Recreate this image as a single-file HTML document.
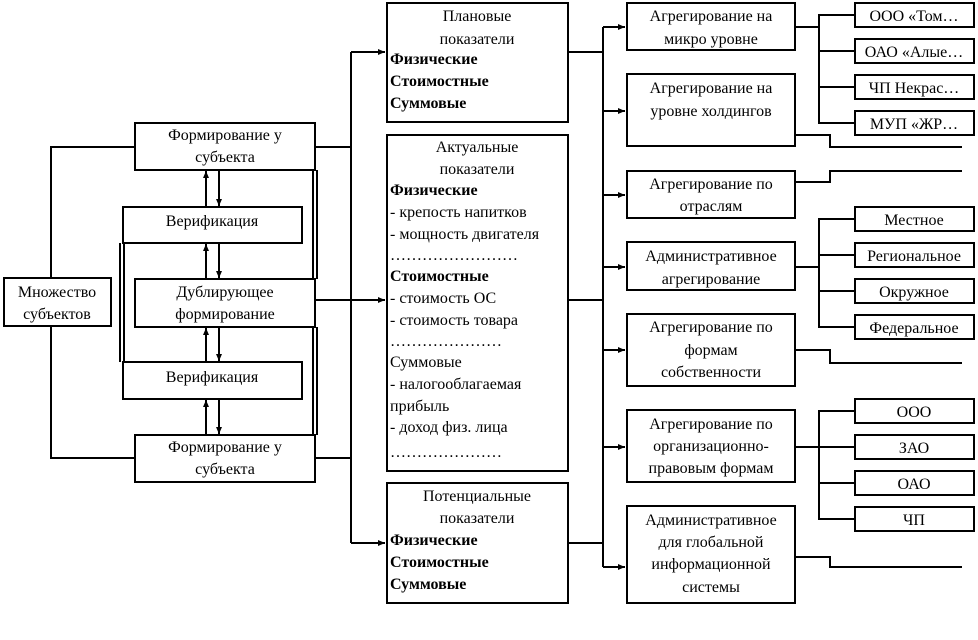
<!DOCTYPE html>
<html><head><meta charset="utf-8"><style>
html,body{margin:0;padding:0;background:#fff;}
svg{display:block;}
text{font-family:"Liberation Serif","DejaVu Serif",serif;font-size:16px;fill:#000;}
.b{font-weight:bold;}
</style></head><body>
<svg width="978" height="640" viewBox="0 0 978 640" xmlns="http://www.w3.org/2000/svg">
<defs>
<marker id="a" markerWidth="8" markerHeight="8" refX="7" refY="4" orient="auto" markerUnits="userSpaceOnUse">
<path d="M0,1 L7,4 L0,7 z" fill="#000"/></marker>
</defs>
<g fill="none" stroke="#000" stroke-width="2">
<!-- left boxes -->
<rect x="4" y="278" width="107" height="48"/>
<rect x="135" y="123" width="180" height="47"/>
<rect x="123" y="207" width="179" height="36"/>
<rect x="135" y="279" width="180" height="48"/>
<rect x="123" y="362" width="179" height="37"/>
<rect x="135" y="435" width="180" height="47"/>
<!-- left connectors -->
<polyline points="51,278 51,147 135,147"/>
<polyline points="51,326 51,458 135,458"/>
<!-- double lines -->
<line x1="313" y1="170" x2="313" y2="279"/><line x1="317" y1="170" x2="317" y2="279"/>
<line x1="313" y1="327" x2="313" y2="435"/><line x1="317" y1="327" x2="317" y2="435"/>
<line x1="120" y1="243" x2="120" y2="362"/><line x1="124" y1="243" x2="124" y2="362"/>
<!-- up/down arrows -->
<line x1="206" y1="207" x2="206" y2="171" marker-end="url(#a)"/>
<line x1="219" y1="170" x2="219" y2="206" marker-end="url(#a)"/>
<line x1="206" y1="279" x2="206" y2="244" marker-end="url(#a)"/>
<line x1="219" y1="243" x2="219" y2="278" marker-end="url(#a)"/>
<line x1="206" y1="362" x2="206" y2="328" marker-end="url(#a)"/>
<line x1="219" y1="327" x2="219" y2="361" marker-end="url(#a)"/>
<line x1="206" y1="435" x2="206" y2="400" marker-end="url(#a)"/>
<line x1="219" y1="399" x2="219" y2="434" marker-end="url(#a)"/>
<!-- bus 1 -->
<line x1="315" y1="147" x2="351" y2="147"/>
<line x1="315" y1="458" x2="351" y2="458"/>
<line x1="351" y1="52" x2="351" y2="543"/>
<line x1="351" y1="52" x2="385" y2="52" marker-end="url(#a)"/>
<line x1="315" y1="300" x2="385" y2="300" marker-end="url(#a)"/>
<line x1="351" y1="543" x2="385" y2="543" marker-end="url(#a)"/>
<!-- middle boxes -->
<rect x="387" y="3" width="181" height="119"/>
<rect x="387" y="135" width="181" height="336"/>
<rect x="387" y="483" width="181" height="120"/>
<!-- bus 2 -->
<line x1="568" y1="52" x2="603" y2="52"/>
<line x1="568" y1="300" x2="603" y2="300"/>
<line x1="568" y1="543" x2="603" y2="543"/>
<line x1="603" y1="27" x2="603" y2="567"/>
<line x1="603" y1="27" x2="625" y2="27" marker-end="url(#a)"/>
<line x1="603" y1="111" x2="625" y2="111" marker-end="url(#a)"/>
<line x1="603" y1="195" x2="625" y2="195" marker-end="url(#a)"/>
<line x1="603" y1="267" x2="625" y2="267" marker-end="url(#a)"/>
<line x1="603" y1="350" x2="625" y2="350" marker-end="url(#a)"/>
<line x1="603" y1="447" x2="625" y2="447" marker-end="url(#a)"/>
<line x1="603" y1="567" x2="625" y2="567" marker-end="url(#a)"/>
<!-- right boxes -->
<rect x="627" y="3" width="168" height="47"/>
<rect x="627" y="74" width="168" height="72"/>
<rect x="627" y="171" width="168" height="47"/>
<rect x="627" y="242" width="168" height="48"/>
<rect x="627" y="314" width="168" height="72"/>
<rect x="627" y="410" width="168" height="72"/>
<rect x="627" y="506" width="168" height="97"/>
<!-- trees -->
<line x1="795" y1="27" x2="819" y2="27"/>
<polyline points="855,15 819,15 819,123 855,123"/>
<line x1="819" y1="51" x2="855" y2="51"/><line x1="819" y1="87" x2="855" y2="87"/>
<line x1="795" y1="267" x2="819" y2="267"/>
<polyline points="855,219 819,219 819,327 855,327"/>
<line x1="819" y1="255" x2="855" y2="255"/><line x1="819" y1="291" x2="855" y2="291"/>
<line x1="795" y1="447" x2="819" y2="447"/>
<polyline points="855,411 819,411 819,519 855,519"/>
<line x1="819" y1="447" x2="855" y2="447"/><line x1="819" y1="483" x2="855" y2="483"/>
<!-- stubs -->
<polyline points="795,135 830,135 830,147 962,147"/>
<polyline points="795,182 830,182 830,171 962,171"/>
<polyline points="795,350 830,350 830,363 962,363"/>
<polyline points="795,557 830,557 830,567 962,567"/>
<!-- leaves -->
<rect x="855" y="3" width="119" height="24"/>
<rect x="855" y="39" width="119" height="24"/>
<rect x="855" y="75" width="119" height="24"/>
<rect x="855" y="111" width="119" height="24"/>
<rect x="855" y="207" width="119" height="24"/>
<rect x="855" y="243" width="119" height="24"/>
<rect x="855" y="279" width="119" height="24"/>
<rect x="855" y="315" width="119" height="24"/>
<rect x="855" y="399" width="119" height="24"/>
<rect x="855" y="435" width="119" height="24"/>
<rect x="855" y="471" width="119" height="24"/>
<rect x="855" y="507" width="119" height="24"/>
</g>
<g text-anchor="middle">
<text x="57" y="297">Множество</text><text x="57" y="319">субъектов</text>
<text x="225" y="140">Формирование у</text><text x="225" y="162">субъекта</text>
<text x="212" y="226">Верификация</text>
<text x="225" y="297">Дублирующее</text><text x="225" y="319">формирование</text>
<text x="212" y="382">Верификация</text>
<text x="225" y="452">Формирование у</text><text x="225" y="474">субъекта</text>
<text x="477" y="21">Плановые</text><text x="477" y="44">показатели</text>
<text x="477" y="152">Актуальные</text><text x="477" y="174">показатели</text>
<text x="477" y="501">Потенциальные</text><text x="477" y="523">показатели</text>
<text x="711" y="21">Агрегирование на</text><text x="711" y="44">микро уровне</text>
<text x="711" y="93">Агрегирование на</text><text x="711" y="116">уровне холдингов</text>
<text x="711" y="189">Агрегирование по</text><text x="711" y="211">отраслям</text>
<text x="711" y="261">Административное</text><text x="711" y="284">агрегирование</text>
<text x="711" y="332">Агрегирование по</text><text x="711" y="355">формам</text><text x="711" y="377">собственности</text>
<text x="711" y="429">Агрегирование по</text><text x="711" y="451">организационно-</text><text x="711" y="473">правовым формам</text>
<text x="711" y="525">Административное</text><text x="711" y="547">для глобальной</text><text x="711" y="569">информационной</text><text x="711" y="592">системы</text>
<text x="914" y="21">ООО «Том…</text>
<text x="914" y="57">ОАО «Алые…</text>
<text x="914" y="93">ЧП Некрас…</text>
<text x="914" y="129">МУП «ЖР…</text>
<text x="914" y="225">Местное</text>
<text x="914" y="261">Региональное</text>
<text x="914" y="297">Окружное</text>
<text x="914" y="333">Федеральное</text>
<text x="914" y="417">ООО</text>
<text x="914" y="453">ЗАО</text>
<text x="914" y="489">ОАО</text>
<text x="914" y="525">ЧП</text>
</g>
<g>
<text x="390" y="64" class="b">Физические</text>
<text x="390" y="86" class="b">Стоимостные</text>
<text x="390" y="108" class="b">Суммовые</text>
<text x="390" y="195" class="b">Физические</text>
<text x="390" y="217">- крепость напитков</text>
<text x="390" y="239">- мощность двигателя</text>
<text x="390" y="260">……………………</text>
<text x="390" y="281" class="b">Стоимостные</text>
<text x="390" y="303">- стоимость ОС</text>
<text x="390" y="325">- стоимость товара</text>
<text x="390" y="346">…………………</text>
<text x="390" y="367">Суммовые</text>
<text x="390" y="389">- налогооблагаемая</text>
<text x="390" y="411">прибыль</text>
<text x="390" y="432">- доход физ. лица</text>
<text x="390" y="457">…………………</text>
<text x="390" y="545" class="b">Физические</text>
<text x="390" y="567" class="b">Стоимостные</text>
<text x="390" y="589" class="b">Суммовые</text>
</g>
</svg>
</body></html>
